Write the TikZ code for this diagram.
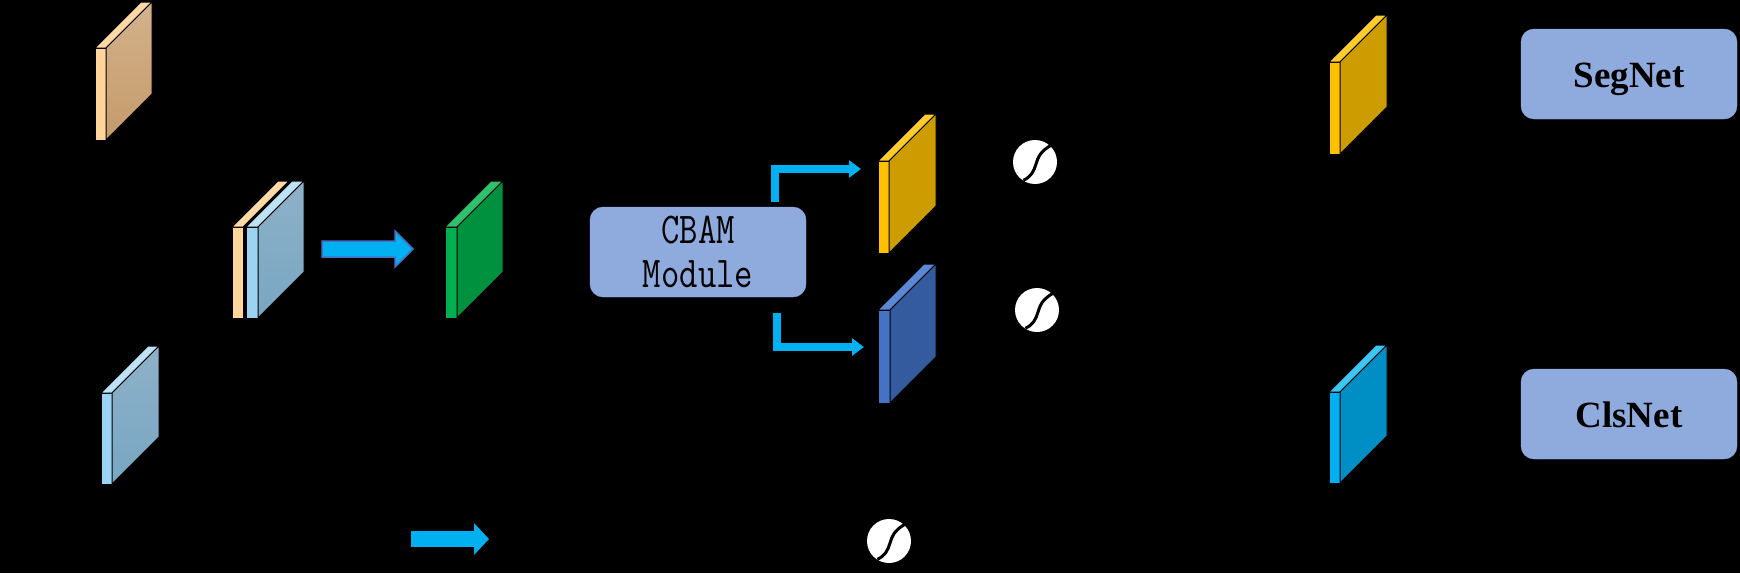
\documentclass[tikz,border=0pt]{standalone}
\usepackage{fontspec}
\newfontfamily\timesfont{Liberation Serif}
\usetikzlibrary{arrows.meta,calc}
\definecolor{boxblue}{HTML}{8FAADC}
\definecolor{arrowcyan}{HTML}{00B0F0}
\definecolor{arrowedge}{HTML}{4472C4}
% feature map colours: S strip, T top face, A back top, B back bottom
\definecolor{tanS}{HTML}{FFD59B}\definecolor{tanT}{HTML}{FFD9A3}\definecolor{tanA}{HTML}{D4B28C}\definecolor{tanB}{HTML}{C49A6A}
\definecolor{lbS}{HTML}{9DD3F2}\definecolor{lbT}{HTML}{BDE2F6}\definecolor{lbA}{HTML}{8EB1C8}\definecolor{lbB}{HTML}{78A6C2}
\definecolor{grS}{HTML}{00B050}\definecolor{grT}{HTML}{2EC06C}\definecolor{grA}{HTML}{00913E}\definecolor{grB}{HTML}{00913E}
\definecolor{yeS}{HTML}{FFC000}\definecolor{yeT}{HTML}{FFCC2E}\definecolor{yeA}{HTML}{CC9C00}\definecolor{yeB}{HTML}{CC9C00}
\definecolor{blS}{HTML}{4472C4}\definecolor{blT}{HTML}{5B88D4}\definecolor{blA}{HTML}{345B9E}\definecolor{blB}{HTML}{345B9E}
\definecolor{cyS}{HTML}{00B0F0}\definecolor{cyT}{HTML}{3CC6F4}\definecolor{cyA}{HTML}{008FC4}\definecolor{cyB}{HTML}{008FC4}
\tikzset{
  fmstrip/.style={draw=black, line width=1pt, inner sep=0pt, outer sep=0pt, anchor=north west},
  fmface/.style={draw=black, line width=1pt, line join=round},
  roundbox/.style={rounded corners=13pt, fill=boxblue, draw=boxblue, minimum width=216pt, minimum height=90pt, inner sep=0pt},
  bent/.style={draw=arrowcyan, line width=8pt, line join=miter, -{Triangle[width=17pt,length=12pt]}},
  flatarrow/.style={draw=arrowcyan, line width=16pt, -{Triangle[width=31pt,length=15pt]}},
  outlinedarrow/.style={fill=arrowcyan, draw=arrowedge, line width=1.5pt, line join=miter},
  marker/.style={circle, fill=white, minimum size=44pt, inner sep=0pt, outer sep=0pt},
  seam/.style={draw=black, line width=3pt},
  monolabel/.style={anchor=base, inner sep=0pt},
  netlabel/.style={anchor=base, inner sep=0pt, font=\timesfont\bfseries\fontsize{37}{40}\selectfont},
}
% #1 name, #2 x0, #3 x1, #4 ytop, #5 ybottom, #6 depth, #7 colour prefix
\newcommand{\featmap}[7]{%
  \node[fmstrip, fill=#7S, minimum width={(#3-#2)*1pt}, minimum height={(#5-#4)*1pt}] (#1) at (#2,#4) {};
  \filldraw[fmface, fill=#7T] (#1.north west) -- (#1.north east) -- ++(#6,-#6) -- ($(#1.north west)+(#6,-#6)$) -- cycle;
  \shadedraw[fmface, top color=#7A, bottom color=#7B] (#1.north east) -- ++(#6,-#6) -- ($(#1.south east)+(#6,-#6)$) -- (#1.south east) -- cycle;
}
\begin{document}
\begin{tikzpicture}[x=1pt,y=-1pt]
\fill[black] (0,0) rectangle (1740,573);
\useasboundingbox (0,0) rectangle (1740,573);

% feature maps
\featmap{fmtan}{95}{106}{48}{140}{46}{tan}
\node[fmstrip, fill=tanS, minimum width=11pt, minimum height=91pt] (fmcato) at (232,227) {};
\filldraw[fmface, fill=tanT] (fmcato.north west) -- (fmcato.north east) -- ++(46,-46) -- ($(fmcato.north west)+(46,-46)$) -- cycle;
\featmap{fmcatb}{246}{258}{227}{318}{46}{lb}
\featmap{fmgreen}{445}{457}{227}{318}{46}{gr}
\featmap{fmyel}{878}{889}{161}{253}{47}{ye}
\featmap{fmblue}{878}{890}{310}{403}{46}{bl}
\featmap{fmyelr}{1329}{1340}{62}{154}{47}{ye}
\featmap{fmcyan}{1329}{1340}{392}{483}{47}{cy}
\featmap{fmlb}{101}{112}{393}{484}{47}{lb}

% boxes
\node[roundbox] (cbam) at (698,252) {};
\node[monolabel] (cbamA) at (698,243) {\scalebox{0.81}[1]{\ttfamily\fontsize{44}{46}\selectfont CBAM}};
\node[monolabel] (cbamB) at (698,287) {\scalebox{0.81}[1]{\ttfamily\fontsize{44}{46}\selectfont Module}};
\node[roundbox] (seg) at (1629,74) {};
\node[netlabel] (segt) at (1629,87) {SegNet};
\node[roundbox] (cls) at (1629,414) {};
\node[netlabel] (clst) at (1629,427) {ClsNet};

% arrows
\coordinate (a1s) at (322,249);
\coordinate (a1e) at (413,249);
\filldraw[outlinedarrow] ($(a1s)+(0,-8)$) -- ($(a1e)+(-18,-8)$) -- ($(a1e)+(-18,-18)$) -- (a1e)
  -- ($(a1e)+(-18,18)$) -- ($(a1e)+(-18,8)$) -- ($(a1s)+(0,8)$) -- cycle;
\coordinate (yin) at (861,169);
\coordinate (bin) at (864,347);
\draw[bent] ([xshift=77pt,yshift=5pt]cbam.north) |- (yin);
\draw[bent] ([xshift=79pt,yshift=-16pt]cbam.south) |- (bin);
\coordinate (a2s) at (411,539);
\coordinate (a2e) at (489,539);
\draw[flatarrow] (a2s) -- (a2e);

% markers
\node[marker] (m1) at (1035,162) {};
\node[marker] (m2) at (1037,310) {};
\node[marker] (m3) at (889,541) {};
\foreach \m in {m1,m2,m3}{
  \draw[seam, shift={(\m)}] (15.7,-16.7) .. controls (5,-10) and (3,-5) .. (1,2)
    .. controls (-1,9) and (-4,15) .. (-11.7,18.3);
}
\end{tikzpicture}
\end{document}
